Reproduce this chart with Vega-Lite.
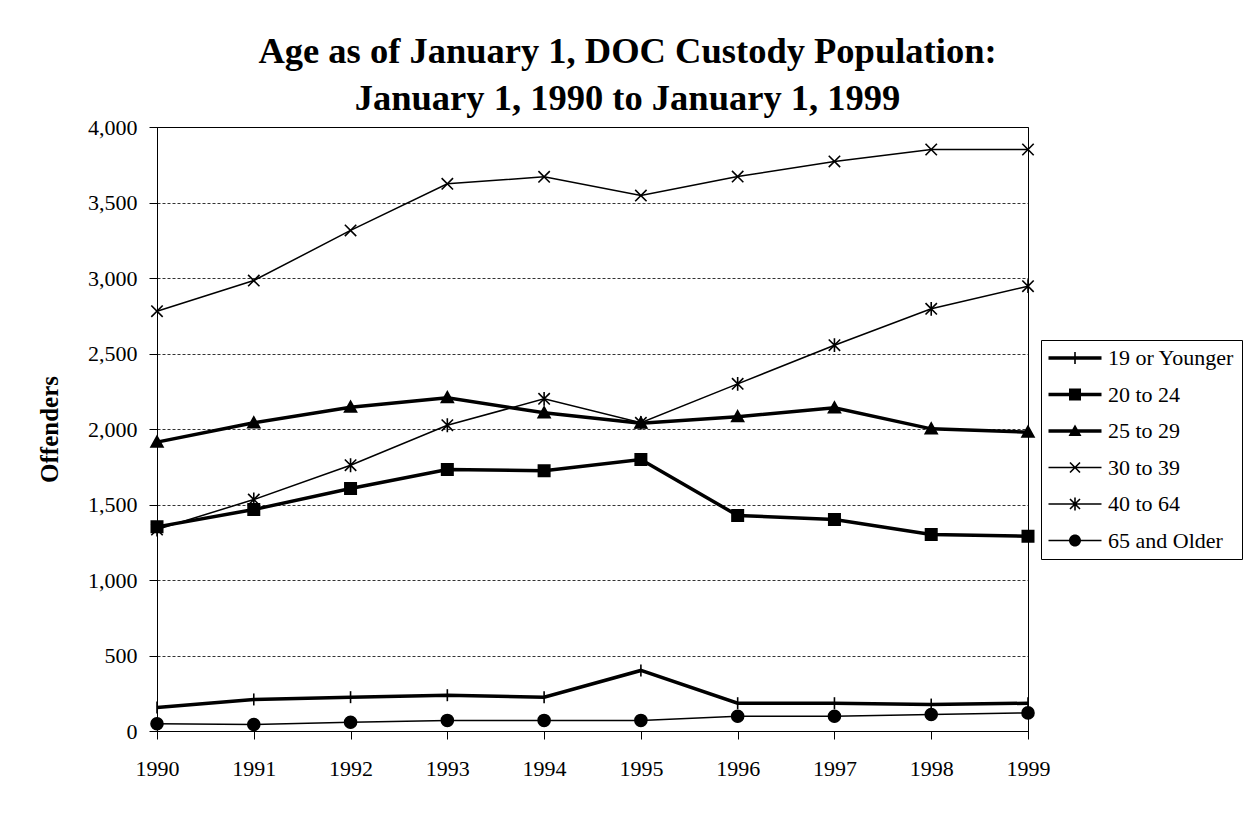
{
  "$schema": "https://vega.github.io/schema/vega-lite/v6.json",
  "autosize": {"type": "none"},
  "width": 871,
  "height": 604,
  "padding": {"left": 157, "top": 127, "right": 222, "bottom": 86},
  "background": "white",
  "config": {"view": {"stroke": "black", "strokeWidth": 1}},
  "title": {
    "text": ["Age as of January 1, DOC Custody Population:", "January 1, 1990 to January 1, 1999"],
    "font": "Liberation Serif", "fontSize": 36.5, "fontWeight": "bold", "lineHeight": 47,
    "anchor": "middle", "frame": "group", "dx": 35, "offset": -1, "color": "black"
  },
  "data": {"values": [
    {"year": 1990, "series": "19 or Younger", "value": 155},
    {"year": 1991, "series": "19 or Younger", "value": 209},
    {"year": 1992, "series": "19 or Younger", "value": 224},
    {"year": 1993, "series": "19 or Younger", "value": 237},
    {"year": 1994, "series": "19 or Younger", "value": 224},
    {"year": 1995, "series": "19 or Younger", "value": 401},
    {"year": 1996, "series": "19 or Younger", "value": 184},
    {"year": 1997, "series": "19 or Younger", "value": 184},
    {"year": 1998, "series": "19 or Younger", "value": 175},
    {"year": 1999, "series": "19 or Younger", "value": 184},
    {"year": 1990, "series": "20 to 24", "value": 1352},
    {"year": 1991, "series": "20 to 24", "value": 1467},
    {"year": 1992, "series": "20 to 24", "value": 1606},
    {"year": 1993, "series": "20 to 24", "value": 1732},
    {"year": 1994, "series": "20 to 24", "value": 1723},
    {"year": 1995, "series": "20 to 24", "value": 1798},
    {"year": 1996, "series": "20 to 24", "value": 1427},
    {"year": 1997, "series": "20 to 24", "value": 1401},
    {"year": 1998, "series": "20 to 24", "value": 1301},
    {"year": 1999, "series": "20 to 24", "value": 1290},
    {"year": 1990, "series": "25 to 29", "value": 1913},
    {"year": 1991, "series": "25 to 29", "value": 2041},
    {"year": 1992, "series": "25 to 29", "value": 2144},
    {"year": 1993, "series": "25 to 29", "value": 2207},
    {"year": 1994, "series": "25 to 29", "value": 2107},
    {"year": 1995, "series": "25 to 29", "value": 2038},
    {"year": 1996, "series": "25 to 29", "value": 2081},
    {"year": 1997, "series": "25 to 29", "value": 2140},
    {"year": 1998, "series": "25 to 29", "value": 2001},
    {"year": 1999, "series": "25 to 29", "value": 1979},
    {"year": 1990, "series": "30 to 39", "value": 2780},
    {"year": 1991, "series": "30 to 39", "value": 2983},
    {"year": 1992, "series": "30 to 39", "value": 3315},
    {"year": 1993, "series": "30 to 39", "value": 3624},
    {"year": 1994, "series": "30 to 39", "value": 3670},
    {"year": 1995, "series": "30 to 39", "value": 3546},
    {"year": 1996, "series": "30 to 39", "value": 3672},
    {"year": 1997, "series": "30 to 39", "value": 3772},
    {"year": 1998, "series": "30 to 39", "value": 3851},
    {"year": 1999, "series": "30 to 39", "value": 3851},
    {"year": 1990, "series": "40 to 64", "value": 1334},
    {"year": 1991, "series": "40 to 64", "value": 1533},
    {"year": 1992, "series": "40 to 64", "value": 1760},
    {"year": 1993, "series": "40 to 64", "value": 2025},
    {"year": 1994, "series": "40 to 64", "value": 2200},
    {"year": 1995, "series": "40 to 64", "value": 2041},
    {"year": 1996, "series": "40 to 64", "value": 2299},
    {"year": 1997, "series": "40 to 64", "value": 2555},
    {"year": 1998, "series": "40 to 64", "value": 2796},
    {"year": 1999, "series": "40 to 64", "value": 2946},
    {"year": 1990, "series": "65 and Older", "value": 48},
    {"year": 1991, "series": "65 and Older", "value": 43},
    {"year": 1992, "series": "65 and Older", "value": 58},
    {"year": 1993, "series": "65 and Older", "value": 70},
    {"year": 1994, "series": "65 and Older", "value": 70},
    {"year": 1995, "series": "65 and Older", "value": 70},
    {"year": 1996, "series": "65 and Older", "value": 98},
    {"year": 1997, "series": "65 and Older", "value": 98},
    {"year": 1998, "series": "65 and Older", "value": 109},
    {"year": 1999, "series": "65 and Older", "value": 120}
  ]},
  "encoding": {
    "x": {
      "field": "year", "type": "quantitative",
      "scale": {"domain": [1990, 1999], "nice": false, "zero": false},
      "axis": {
        "values": [1990, 1991, 1992, 1993, 1994, 1995, 1996, 1997, 1998, 1999],
        "format": "d", "title": null, "grid": false,
        "labelFont": "Liberation Serif", "labelFontSize": 22, "labelColor": "black",
        "tickColor": "black", "domainColor": "black", "tickSize": 8, "labelPadding": 19,
        "labelFlush": false, "labelOverlap": false
      }
    },
    "y": {
      "field": "value", "type": "quantitative",
      "scale": {"domain": [0, 4000], "nice": false},
      "axis": {
        "values": [0, 500, 1000, 1500, 2000, 2500, 3000, 3500, 4000],
        "format": ",d", "title": "Offenders",
        "titleFont": "Liberation Serif", "titleFontSize": 25, "titleFontWeight": "bold", "titleColor": "black",
        "titlePadding": 25,
        "labelFont": "Liberation Serif", "labelFontSize": 22, "labelColor": "black",
        "tickColor": "black", "domainColor": "black", "tickSize": 8, "labelPadding": 12,
        "grid": true, "gridColor": "#000", "gridDash": [3, 2], "gridWidth": 1, "gridOpacity": 0.8
      }
    }
  },
  "layer": [
    {
      "mark": {"type": "line", "color": "black"},
      "encoding": {
        "detail": {"field": "series", "type": "nominal"},
        "strokeWidth": {
          "field": "series", "type": "nominal",
          "scale": {"type": "ordinal", "domain": ["19 or Younger", "20 to 24", "25 to 29", "30 to 39", "40 to 64", "65 and Older"], "range": [3.5, 3.5, 3.5, 1.5, 1.5, 1.5]},
          "legend": null
        }
      }
    },
    {
      "mark": {"type": "point", "filled": true, "color": "black", "stroke": "black", "opacity": 1, "size": 144, "strokeWidth": 1.6},
      "encoding": {
        "shape": {
          "field": "series", "type": "nominal",
          "scale": {
            "domain": ["19 or Younger", "20 to 24", "25 to 29", "30 to 39", "40 to 64", "65 and Older"],
            "range": [
              "M0,-1V1",
              "M-0.95,-0.95H0.95V0.95H-0.95Z",
              "M0,-1L1,0.8H-1Z",
              "M-0.95,-0.95L0.95,0.95M-0.95,0.95L0.95,-0.95",
              "M-0.95,-0.95L0.95,0.95M-0.95,0.95L0.95,-0.95M0,-1.15V1.15",
              "M1,0A1,1 0 1,1 -1,0A1,1 0 1,1 1,0Z"
            ]
          },
          "legend": null
        }
      }
    },
    {
      "transform": [{"filter": "datum.value < 0"}],
      "mark": {"type": "point", "filled": true, "color": "black", "size": 400},
      "encoding": {
        "shape": {
          "field": "series", "type": "nominal",
          "scale": {
            "domain": ["19 or Younger", "20 to 24", "25 to 29", "30 to 39", "40 to 64", "65 and Older"],
            "range": [
              "M-1.05,-0.175H4.25V0.175H-1.05ZM1.52,-0.6H1.68V0.6H1.52Z",
              "M-1.05,-0.175H4.25V0.175H-1.05ZM1,-0.6H2.2V0.6H1Z",
              "M-1.05,-0.175H4.25V0.175H-1.05ZM1.6,-0.65L2.25,0.5H0.95Z",
              "M-1.05,-0.075H4.25V0.075H-1.05ZM1.157,-0.557L2.157,0.443L2.043,0.557L1.043,-0.443ZM1.043,0.443L2.043,-0.557L2.157,-0.443L1.157,0.557Z",
              "M-1.05,-0.075H4.25V0.075H-1.05ZM1.157,-0.557L2.157,0.443L2.043,0.557L1.043,-0.443ZM1.043,0.443L2.043,-0.557L2.157,-0.443L1.157,0.557ZM1.52,-0.65H1.68V0.65H1.52Z",
              "M-1.05,-0.075H4.25V0.075H-1.05ZM2.2,0A0.6,0.6 0 1,1 1,0A0.6,0.6 0 1,1 2.2,0Z"
            ]
          },
          "legend": {
            "title": null, "orient": "none", "legendX": 884, "legendY": 213,
            "labelFont": "Liberation Serif", "labelFontSize": 22, "labelColor": "black", "labelLimit": 300,
            "symbolSize": 400, "symbolOpacity": 1, "symbolFillColor": "black", "symbolStrokeColor": "transparent", "symbolStrokeWidth": 0,
            "strokeColor": "black", "fillColor": "white", "padding": 7, "rowPadding": 14.5, "labelOffset": 38
          }
        }
      }
    }
  ],
  "resolve": {"scale": {"shape": "independent"}}
}
